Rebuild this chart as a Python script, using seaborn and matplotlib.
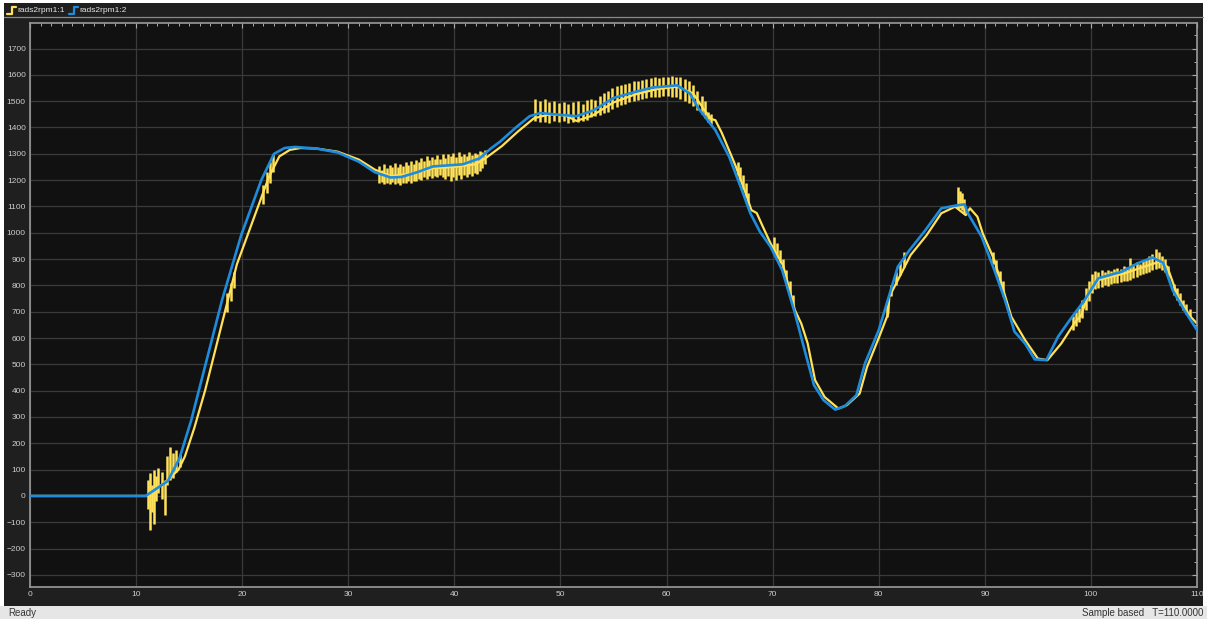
import numpy as np
import pandas as pd
import seaborn as sns
import matplotlib.pyplot as plt
from matplotlib.ticker import MultipleLocator
from matplotlib.patches import Rectangle
from matplotlib.lines import Line2D

# ---------------------------------------------------------------------------
# Data (time in s, speed in rpm)

# rads2rpm1:2 (blue, smooth)
blue_t = [0, 10.9, 13.0, 14.1, 15.2, 18.1, 19.9, 21.8, 23.0, 24.0,
          25.0, 27.0, 29.0, 31.0, 32.5, 34.0, 35.0, 36.5, 38.0, 40.8,
          42.4, 43.4, 44.3, 45.8, 47.1, 48.1, 50.0, 51.5, 53.1, 55.0,
          57.0, 58.7, 61.0, 62.2, 63.0, 64.6, 65.9, 67.1, 67.9, 68.8,
          69.8, 70.9, 72.1, 73.1, 73.9, 74.8, 75.9, 76.8, 77.9, 78.7,
          80.0, 81.8, 82.9, 84.4, 85.9, 87.5, 88.1, 88.4, 89.7, 90.9,
          91.9, 92.8, 93.8, 94.7, 95.8, 96.9, 98.0, 99.4, 100.7, 102.9,
          104.4, 105.8, 106.8, 107.7, 108.8, 110.0]
blue_v = [0, 0, 57, 144, 288, 744, 990, 1200, 1300, 1322,
          1326, 1320, 1305, 1270, 1230, 1210, 1212, 1230, 1252, 1260,
          1283, 1319, 1346, 1400, 1443, 1455, 1448, 1443, 1465, 1512,
          1535, 1552, 1560, 1529, 1473, 1390, 1289, 1162, 1074, 1004,
          947, 858, 694, 541, 421, 364, 328, 341, 383, 503,
          630, 871, 934, 1010, 1093, 1105, 1108, 1074, 985, 858,
          744, 624, 579, 519, 516, 605, 668, 744, 827, 852,
          884, 906, 886, 782, 706, 630]

# rads2rpm1:1 (yellow) - underlying trace
yel_t = [0, 11.0, 12.0, 13.0, 14.0, 14.6, 15.5, 16.5, 17.5, 18.5,
         19.5, 20.5, 21.5, 22.5, 23.5, 24.5, 25.5, 27.0, 29.0, 31.0,
         32.5, 34.0, 36.0, 38.0, 40.0, 42.0, 43.0, 44.5, 46.0, 47.5,
         49.0, 50.5, 51.5, 53.0, 55.0, 57.0, 59.0, 61.0, 62.5, 63.5,
         64.2, 64.6, 65.2, 66.5, 67.5, 68.0, 68.5, 69.0, 69.8, 71.0,
         72.1, 72.7, 73.3, 74.0, 74.9, 76.2, 77.0, 78.2, 78.9, 80.0,
         80.9, 81.0, 81.8, 83.0, 84.5, 85.9, 87.2, 88.2, 88.6, 89.3,
         89.8, 90.9, 92.5, 93.8, 95.0, 95.9, 97.2, 98.5, 99.1, 99.7,
         100.7, 103.2, 105.0, 106.5, 107.2, 108.2, 109.4, 110.0]
yel_v = [0, 0, 30, 60, 100, 150, 260, 400, 560, 720,
         880, 990, 1100, 1210, 1290, 1315, 1322, 1320, 1308, 1278,
         1240, 1215, 1225, 1245, 1250, 1260, 1285, 1330, 1385, 1435,
         1450, 1445, 1425, 1445, 1495, 1525, 1545, 1555, 1530, 1470,
         1432, 1428, 1380, 1255, 1145, 1086, 1075, 1030, 960, 875,
         706, 655, 580, 440, 376, 332, 345, 389, 490, 600,
         694, 757, 820, 915, 990, 1074, 1099, 1067, 1093, 1061,
         998, 896, 681, 592, 522, 516, 579, 660, 687, 760,
         820, 846, 871, 890, 871, 757, 681, 655]

# rads2rpm1:1 - oscillation spikes (time, low, high)
spike_t = [11.1, 11.3, 11.5, 11.7, 11.9, 12.1, 12.4, 12.7, 12.9, 13.2, 13.5, 13.8, 14.1,
           18.6, 18.9, 19.2, 22.0, 22.3, 22.6, 22.9,
           32.9, 33.15, 33.4, 33.65, 33.9, 34.15, 34.4, 34.65, 34.9, 35.15, 35.4,
           35.65, 35.9, 36.15, 36.4, 36.65, 36.9, 37.15, 37.4, 37.65, 37.9, 38.15,
           38.4, 38.65, 38.9, 39.15, 39.4, 39.65, 39.9, 40.15, 40.4, 40.65, 40.9,
           41.15, 41.4, 41.65, 41.9, 42.15, 42.4, 42.65, 42.9,
           47.6, 48.05, 48.5, 48.95, 49.4, 49.85, 50.3, 50.75, 51.15,
           51.7, 52.1, 52.5, 52.9, 53.3, 53.7, 54.1, 54.5, 54.9, 55.3, 55.7,
           56.1, 56.5, 56.9, 57.3, 57.7, 58.1, 58.5, 58.9, 59.3, 59.7, 60.1,
           60.5, 60.9, 61.3, 61.7, 62.1, 62.5, 62.9, 63.3, 63.6,
           63.9, 64.2,
           66.7, 66.95, 67.2, 67.45, 67.7,
           70.1, 70.4, 70.7, 71.0, 71.3, 71.6, 71.9,
           80.8, 81.2, 81.6, 82.0, 82.4,
           87.45, 87.65, 87.85, 88.05,
           90.8, 91.1, 91.4, 91.7,
           98.3, 98.6, 98.9, 99.2, 99.5, 99.8, 100.1, 100.4, 100.7, 101.0, 101.3,
           101.6, 101.9, 102.2, 102.5, 102.8, 103.1, 103.4, 103.7, 104.0, 104.3,
           104.6, 104.9, 105.2, 105.5, 105.8, 106.1, 106.4, 106.7, 107.0, 107.3,
           107.8, 108.1, 108.4, 108.7, 109.0, 109.3]
spike_lo = [-50, -130, -60, -105, -20, 10, -10, -73, 40, 60, 70, 90, 110,
            700, 740, 790, 1110, 1150, 1190, 1230,
            1190, 1192, 1185, 1190, 1187, 1192, 1185, 1190, 1183, 1190, 1188,
            1195, 1190, 1198, 1195, 1205, 1200, 1210, 1205, 1215, 1208, 1215,
            1212, 1220, 1212, 1205, 1215, 1195, 1210, 1200, 1218, 1205, 1220,
            1210, 1222, 1215, 1228, 1222, 1235, 1245, 1260,
            1425, 1420, 1422, 1418, 1425, 1420, 1425, 1418, 1420,
            1422, 1425, 1430, 1440, 1445, 1447, 1455, 1460, 1470, 1478, 1485,
            1490, 1495, 1500, 1505, 1508, 1511, 1515, 1517, 1517, 1518, 1518,
            1517, 1515, 1510, 1500, 1492, 1480, 1465, 1450, 1435,
            1420, 1415,
            1220, 1195, 1165, 1135, 1105,
            930, 905, 885, 855, 810, 765, 720,
            680, 760, 800, 840, 870,
            1090, 1095, 1088, 1075,
            880, 840, 800, 760,
            630, 645, 660, 675, 705, 740, 770, 785, 790, 795, 800,
            798, 805, 808, 810, 812, 815, 818, 822, 828, 832,
            838, 842, 848, 852, 858, 862, 866, 860, 850, 830,
            765, 745, 725, 705, 690, 675]
spike_hi = [60, 87, 40, 98, 75, 105, 90, 60, 150, 187, 165, 175, 160,
            770, 810, 850, 1180, 1230, 1270, 1300,
            1255, 1240, 1262, 1245, 1258, 1248, 1265, 1250, 1262, 1255, 1270,
            1258, 1272, 1262, 1278, 1268, 1285, 1272, 1290, 1278, 1288, 1280,
            1295, 1282, 1298, 1285, 1300, 1290, 1302, 1288, 1305, 1292, 1300,
            1290, 1305, 1295, 1302, 1298, 1310, 1305, 1315,
            1510, 1500, 1508, 1495, 1500, 1492, 1498, 1490, 1495,
            1500, 1490, 1505, 1510, 1505, 1520, 1530, 1540, 1550, 1558, 1560,
            1565, 1570, 1575, 1578, 1580, 1585, 1587, 1590, 1588, 1593, 1590,
            1595, 1592, 1590, 1585, 1575, 1560, 1540, 1520, 1500,
            1460, 1450,
            1270, 1250, 1220, 1190, 1150,
            985, 960, 935, 900, 860, 815, 765,
            730, 800, 850, 890, 925,
            1175, 1160, 1150, 1130,
            925, 895, 855, 815,
            685, 700, 715, 745, 790, 815, 845, 855, 850, 858, 852,
            860, 856, 862, 866, 862, 875, 870, 905, 880, 888,
            882, 895, 900, 912, 920, 938, 925, 912, 900, 875,
            805, 790, 770, 745, 730, 712]

legend_names = ['rads2rpm1:1', 'rads2rpm1:2']
yellow = '#FFE15A'
blue = '#1E8CDC'

# ---------------------------------------------------------------------------
# Figure

sns.set_theme(style='dark')
plt.rcParams['font.family'] = ['Liberation Sans', 'DejaVu Sans']

W, H = 1207, 619
fig = plt.figure(figsize=(W / 100, H / 100), dpi=100, facecolor='white')


def fx(px):
    return px / W


def fy(py):
    return 1 - py / H


# scope window background, legend bar line and status bar (behind the axes)
fig.add_artist(Rectangle((fx(4), fy(606)), fx(1199), (606 - 3) / H,
                         transform=fig.transFigure, facecolor='#1f1f1f',
                         edgecolor='none', zorder=-10))
fig.add_artist(Rectangle((0, 0), 1, 13 / H, transform=fig.transFigure,
                         facecolor='#e6e6e6', edgecolor='none', zorder=-10))
fig.add_artist(Line2D([fx(4), fx(1203)], [fy(17), fy(17)], transform=fig.transFigure,
                      color='#8a8a8a', linewidth=0.9, zorder=-5))

ax = fig.add_axes([fx(30), fy(587), (1197 - 30) / W, (587 - 23) / H])
ax.set_facecolor('#111111')

# yellow spikes + trace, then blue on top
ax.vlines(spike_t, spike_lo, spike_hi, color=yellow, linewidth=1.8, zorder=2)
sns.lineplot(x=yel_t, y=yel_v, ax=ax, color=yellow, linewidth=1.6,
             sort=False, estimator=None, zorder=2)
sns.lineplot(x=blue_t, y=blue_v, ax=ax, color=blue, linewidth=1.9,
             sort=False, estimator=None, zorder=3)

ax.set_xlim(0, 110)
ax.set_ylim(-346, 1797)
ax.set_xlabel('')
ax.set_ylabel('')
ax.xaxis.set_major_locator(MultipleLocator(10))
ax.xaxis.set_minor_locator(MultipleLocator(1))
ax.yaxis.set_major_locator(MultipleLocator(100))
ax.yaxis.set_minor_locator(MultipleLocator(50))
ax.grid(True, which='major', color='#3a3a3a', linewidth=0.9)
ax.grid(False, which='minor')
ax.set_axisbelow(True)
for s in ax.spines.values():
    s.set_color('#9a9a9a')
    s.set_linewidth(1.2)
ax.tick_params(which='both', direction='in', top=True, right=True,
               color='#aaaaaa', labelcolor='#cccccc', labelsize=6)
ax.tick_params(which='major', length=3.5, width=0.8, pad=3)
ax.tick_params(which='minor', length=2, width=0.7)

# legend bar
for i, (name, col) in enumerate(zip(legend_names, [yellow, blue])):
    x0 = 7 + i * 62
    fig.add_artist(Line2D([fx(x0), fx(x0 + 5), fx(x0 + 5), fx(x0 + 9)],
                          [fy(13.5), fy(13.5), fy(7), fy(7)],
                          transform=fig.transFigure, color=col, linewidth=1.6))
    fig.text(fx(x0 + 10), fy(10), name, color='#e6e6e6', fontsize=6,
             va='center', ha='left')

# status bar
fig.text(fx(8), fy(612.5), 'Ready', color='#333333', fontsize=7, va='center', ha='left')
fig.text(fx(1203), fy(612.5), 'Sample based   T=110.0000', color='#333333',
         fontsize=7, va='center', ha='right')

fig.savefig('out.png', dpi=100, facecolor=fig.get_facecolor())
